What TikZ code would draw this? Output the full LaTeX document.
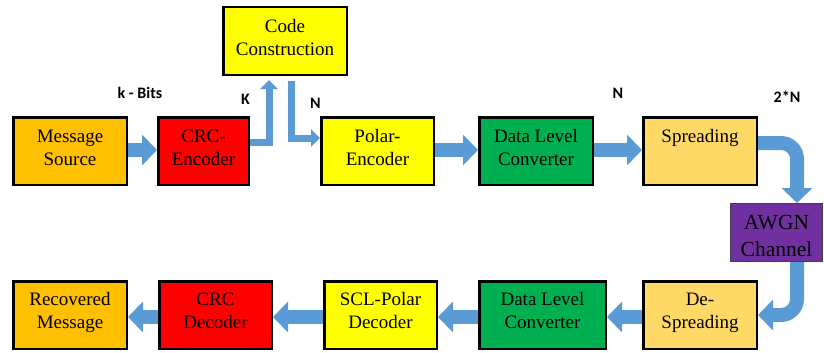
\documentclass[tikz,border=0pt]{standalone}
\usepackage{fontspec}
\setmainfont{Liberation Serif}
\newfontfamily\lblfont{Carlito}
\usetikzlibrary{arrows.meta,backgrounds}
\definecolor{cOrange}{HTML}{FFC000}
\definecolor{cRed}{HTML}{FF0000}
\definecolor{cYellow}{HTML}{FFFF00}
\definecolor{cGreen}{HTML}{00B050}
\definecolor{cLight}{HTML}{FFD966}
\definecolor{cPurple}{HTML}{7030A0}
\definecolor{cArrow}{HTML}{5B9BD5}
\newcommand{\bxt}[4]{\parbox[c][#2][t]{#1}{\centering\rule{0pt}{#3}#4\par}}
\begin{document}
\begin{tikzpicture}[x=1pt,y=-1pt,
  blk/.style={draw=black,line width=2.5pt,inner sep=0pt,font=\fontsize{19}{23}\selectfont},
  barrow/.style={draw=cArrow,line width=14pt,-{Triangle[width=30pt,length=15pt]}},
  sarrow/.style={draw=cArrow,line width=7pt,-{Triangle[width=17pt,length=9pt]}},
  lbl/.style={font=\lblfont\bfseries\fontsize{16}{18}\selectfont,anchor=base}]
\useasboundingbox (0,0) rectangle (824,353);
% top row
\node[blk,fill=cOrange] (ms) at (70,151) {\bxt{113.5pt}{67.5pt}{25pt}{Message\\Source}};
\node[blk,fill=cRed] (crc) at (203.5,151) {\bxt{90.5pt}{67.5pt}{25pt}{CRC-\\Encoder}};
\node[blk,fill=cYellow] (code) at (285,41) {\bxt{123.5pt}{67.5pt}{25pt}{Code\\Construction}};
\node[blk,fill=cYellow] (polar) at (377.5,151) {\bxt{112.5pt}{67.5pt}{25pt}{Polar-\\Encoder}};
\node[blk,fill=cGreen] (dlc) at (536,151) {\bxt{113.5pt}{67.5pt}{25pt}{Data Level\\Converter}};
\node[blk,fill=cLight] (sp) at (700,151) {\bxt{113.5pt}{67.5pt}{25pt}{Spreading}};
% channel
\node[draw=black!75,line width=1pt,fill=cPurple,inner sep=0pt,font=\fontsize{21.5}{27}\selectfont]
  (awgn) at (776.5,232.5) {\bxt{92pt}{58pt}{25.5pt}{AWGN\\Channel}};
% bottom row
\node[blk,fill=cLight] (desp) at (700,315) {\bxt{113.5pt}{67.5pt}{24pt}{De-\\Spreading}};
\node[blk,fill=cGreen] (dlc2) at (542.5,315) {\bxt{126.5pt}{67.5pt}{24pt}{Data Level\\Converter}};
\node[blk,fill=cYellow] (scl) at (380.5,315) {\bxt{112.5pt}{67.5pt}{24pt}{SCL-Polar\\Decoder}};
\node[blk,fill=cRed] (crcd) at (215.5,315) {\bxt{112.5pt}{67.5pt}{24pt}{CRC\\Decoder}};
\node[blk,fill=cOrange] (rec) at (70,315) {\bxt{113.5pt}{67.5pt}{24pt}{Recovered\\Message}};
% labels
\node[lbl] (kbits) at (140,98) {k - Bits};
\node[lbl] (lk) at (245.5,104) {K};
\node[lbl] (ln1) at (315.5,108) {N};
\node[lbl] (ln2) at (618,98) {N};
\node[lbl] (l2n) at (787,102) {2*N};
% arrows
\begin{scope}[on background layer]
\draw[barrow] (ms.east |- 0,150) -- (crc.west |- 0,150);
\draw[sarrow] (crc.east |- 0,142) -| ([xshift=-16pt,yshift=-4pt]code.south);
\draw[sarrow] ([xshift=6.5pt,yshift=-5pt]code.south) |- (polar.west |- 0,138);
\draw[barrow] (polar.east |- 0,150) -- (dlc.west |- 0,150);
\draw[barrow] (dlc.east |- 0,150) -- (sp.west |- 0,150);
\draw[barrow,rounded corners=16pt] (sp.east |- 0,143) -| ([xshift=20.5pt]awgn.north);
\draw[barrow,rounded corners=16pt] ([xshift=20.5pt]awgn.south) |- (desp.east |- 0,315);
\draw[barrow] (desp.west |- 0,317) -- (dlc2.east |- 0,317);
\draw[barrow] (dlc2.west |- 0,317) -- (scl.east |- 0,317);
\draw[barrow] (scl.west |- 0,317) -- (crcd.east |- 0,317);
\draw[barrow] (crcd.west |- 0,317) -- (rec.east |- 0,317);
\end{scope}
\end{tikzpicture}
\end{document}
